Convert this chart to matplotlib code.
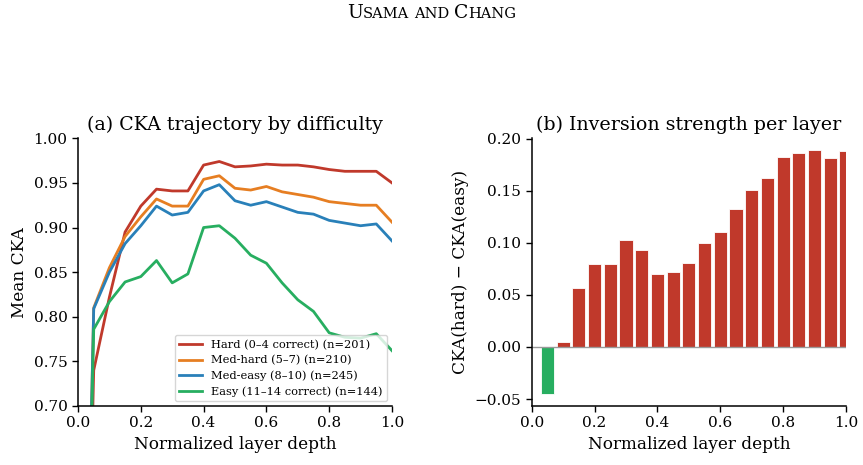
import matplotlib
matplotlib.use('Agg')
import matplotlib.pyplot as plt
import numpy as np

plt.rcParams['font.family'] = 'DejaVu Serif'
plt.rcParams['axes.linewidth'] = 1.1

# layer depth (0 .. 1 in steps of 0.05)
depth = [0.00, 0.05, 0.10, 0.15, 0.20, 0.25, 0.30, 0.35, 0.40, 0.45, 0.50,
         0.55, 0.60, 0.65, 0.70, 0.75, 0.80, 0.85, 0.90, 0.95, 1.00]

hard = [0.0, 0.740, 0.822, 0.895, 0.924, 0.943, 0.941, 0.941, 0.970, 0.974, 0.968,
        0.969, 0.971, 0.970, 0.970, 0.968, 0.965, 0.963, 0.963, 0.963, 0.950]
med_hard = [0.0, 0.810, 0.855, 0.890, 0.912, 0.932, 0.924, 0.924, 0.954, 0.958, 0.944,
            0.942, 0.946, 0.940, 0.937, 0.934, 0.929, 0.927, 0.925, 0.925, 0.906]
med_easy = [0.0, 0.809, 0.850, 0.882, 0.902, 0.924, 0.914, 0.917, 0.941, 0.948, 0.930,
            0.925, 0.929, 0.923, 0.917, 0.915, 0.908, 0.905, 0.902, 0.904, 0.885]
easy = [0.0, 0.786, 0.817, 0.839, 0.845, 0.863, 0.838, 0.848, 0.900, 0.902, 0.888,
        0.869, 0.860, 0.838, 0.819, 0.806, 0.782, 0.777, 0.776, 0.781, 0.762]

labels = ["Hard (0\u20134 correct) (n=201)", "Med-hard (5\u20137) (n=210)",
          "Med-easy (8\u201310) (n=245)", "Easy (11\u201314 correct) (n=144)"]
colors = ["#c0392b", "#e67e22", "#2980b9", "#27ae60"]

# inversion strength: CKA(hard) - CKA(easy), layers 1..20
bar_depth = depth[1:]
inversion = [-0.0456, 0.0045, 0.0562, 0.0793, 0.0800, 0.1030, 0.0928, 0.0703, 0.0719, 0.0806,
             0.0998, 0.1108, 0.1326, 0.1509, 0.1628, 0.1823, 0.1868, 0.1888, 0.1817, 0.1881]

fig = plt.figure(figsize=(8.63, 4.65), dpi=100)

# page header in small caps
def small_caps(fig, words, y, big=13.5, small=10.5):
    r = fig.canvas.get_renderer()
    pieces = []
    for i, w in enumerate(words):
        if i > 0:
            pieces.append((" ", small))
        if w[0].isupper():
            pieces.append((w[0], big))
            pieces.append((w[1:].upper(), small))
        else:
            pieces.append((w.upper(), small))
    texts = []
    x = 0
    for s, fs in pieces:
        t = fig.text(x, y, s, fontsize=fs, family='DejaVu Serif', va='baseline', ha='left')
        texts.append(t)
        bb = t.get_window_extent(r)
        x += bb.width / fig.bbox.width
    shift = 0.5 - x / 2
    for t in texts:
        px, py = t.get_position()
        t.set_position((px + shift, py))

small_caps(fig, ["Usama", "and", "Chang"], 0.962)

ax1 = fig.add_axes([0.0904, 0.1269, 0.3638, 0.5757])
for vals, lab, c in zip([hard, med_hard, med_easy, easy], labels, colors):
    ax1.plot(depth, vals, color=c, lw=2.0, label=lab)
ax1.set_xlim(0, 1.0)
ax1.set_ylim(0.70, 1.00)
ax1.set_xticks([0.0, 0.2, 0.4, 0.6, 0.8, 1.0])
ax1.set_yticks([0.70, 0.75, 0.80, 0.85, 0.90, 0.95, 1.00])
ax1.set_xlabel("Normalized layer depth", fontsize=12.2)
ax1.set_ylabel("Mean CKA", fontsize=12.2)
ax1.set_title("(a) CKA trajectory by difficulty", fontsize=13.7)
leg = ax1.legend(loc='lower right', fontsize=8.2, framealpha=0.8, handlelength=2.0,
                 borderpad=0.4, labelspacing=0.45, borderaxespad=0.4)
leg.get_frame().set_edgecolor('#cccccc')

ax2 = fig.add_axes([0.6161, 0.1269, 0.3642, 0.5757])
bar_colors = [colors[3] if v < 0 else colors[0] for v in inversion]
ax2.bar(bar_depth, inversion, width=0.042, color=bar_colors, edgecolor='white', linewidth=0.6)
ax2.axhline(0, color='#999999', lw=1.0)
ax2.set_xlim(0, 1.0)
ax2.set_ylim(-0.0567, 0.2005)
ax2.set_xticks([0.0, 0.2, 0.4, 0.6, 0.8, 1.0])
ax2.set_yticks([-0.05, 0.00, 0.05, 0.10, 0.15, 0.20])
ax2.set_xlabel("Normalized layer depth", fontsize=12.2)
ax2.set_ylabel("CKA(hard) \u2212 CKA(easy)", fontsize=12.2)
ax2.set_title("(b) Inversion strength per layer", fontsize=13.7)

for ax in (ax1, ax2):
    ax.spines['top'].set_visible(False)
    ax.spines['right'].set_visible(False)
    ax.tick_params(labelsize=11, length=4, width=1.0)

fig.savefig("out.png", dpi=100)
